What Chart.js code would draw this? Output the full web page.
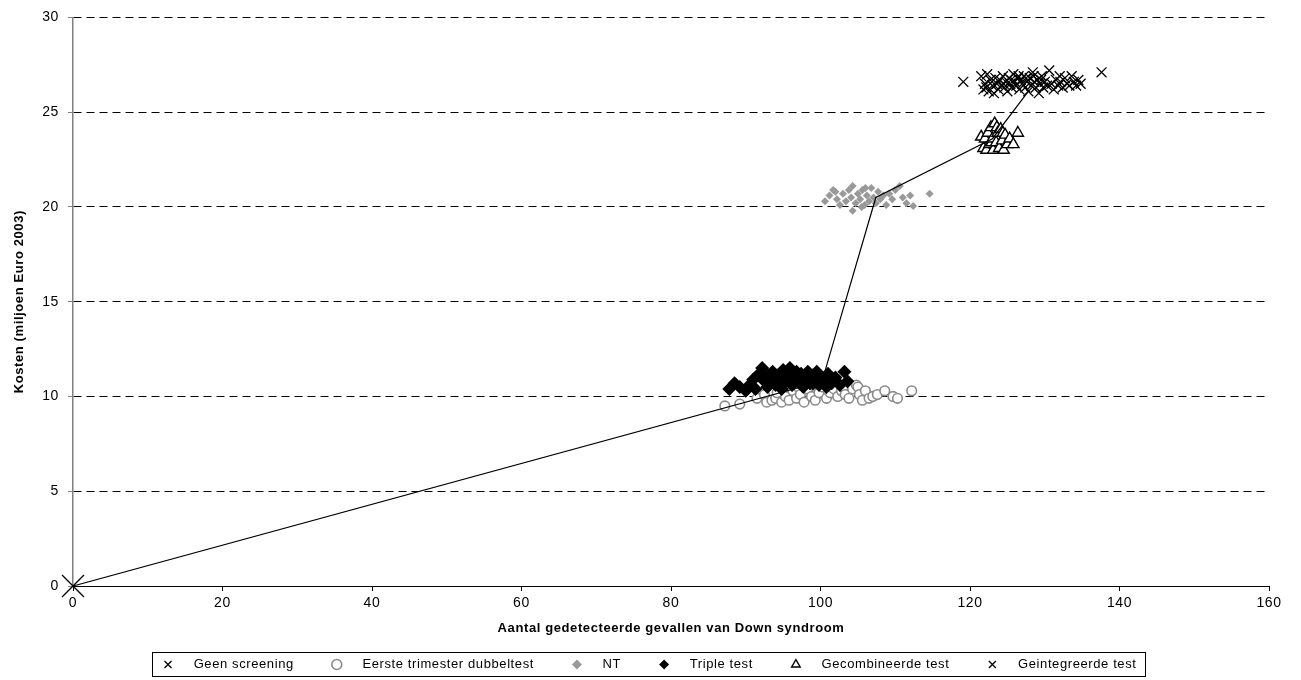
<!DOCTYPE html>
<html>
<head>
<meta charset="utf-8">
<script src="https://cdn.jsdelivr.net/npm/chart.js@4.4.1/dist/chart.umd.min.js"></script>
<style>
  html, body { margin: 0; padding: 0; background: #fff; }
  #wrap { width: 1301px; height: 680px; }
</style>
</head>
<body>
<div id="wrap"><canvas id="kostenChart"></canvas></div>
<script>
// data: [aantal gedetecteerd, kosten (mln euro)]
const xTicks = [0, 20, 40, 60, 80, 100, 120, 140, 160];
const yTicks = [0, 5, 10, 15, 20, 25, 30];

const geenScreening = [[0, 0]];

const eersteTrimester = [
    [87.2, 9.5], [89.2, 9.6], [91.5, 9.9], [92.5, 10.1], [92.8, 9.7], [93.5, 9.8], [94.0, 9.9],
    [94.2, 10.2], [94.8, 9.7], [95.0, 10.4], [95.3, 10.0], [95.8, 9.8], [96.3, 10.3], [96.8, 9.9],
    [97.0, 10.5], [97.3, 10.1], [97.8, 9.7], [98.3, 10.4], [98.8, 10.0], [99.0, 10.6], [99.3, 9.8],
    [99.8, 10.2], [100.3, 10.5], [100.8, 9.9], [101.0, 10.6], [101.3, 10.2], [101.8, 10.4],
    [102.3, 10.0], [102.8, 10.3], [103.0, 10.5], [103.3, 10.1], [103.8, 9.9], [104.3, 10.4],
    [104.8, 10.6], [105.0, 10.5], [105.2, 10.1], [105.6, 9.8], [106.0, 10.3], [106.5, 9.9],
    [107.0, 10.0], [107.6, 10.1], [108.6, 10.3], [109.7, 10.0], [110.3, 9.9], [112.2, 10.3]
];

const ntTest = [
    [100.6, 20.3], [101.2, 20.6], [101.7, 20.9], [102.0, 20.8], [102.2, 20.4], [102.6, 20.1],
    [103.0, 20.7], [103.4, 20.3], [103.8, 20.9], [104.1, 20.5], [104.3, 21.1], [104.3, 19.8],
    [104.7, 20.2], [105.0, 20.7], [105.3, 20.4], [105.5, 20.0], [105.6, 20.9], [105.9, 20.1],
    [106.0, 21.0], [106.2, 20.6], [106.5, 20.3], [106.8, 21.0], [107.1, 20.5], [107.4, 20.2],
    [107.7, 20.8], [108.0, 20.4], [108.4, 20.6], [108.8, 20.1], [109.2, 20.7], [109.6, 20.4],
    [110.0, 20.9], [110.6, 21.1], [111.0, 20.5], [111.5, 20.2], [112.0, 20.6], [112.4, 20.05],
    [114.6, 20.7]
];

const tripleTest = [
    [87.8, 10.4], [88.5, 10.7], [89.2, 10.5], [90.0, 10.3], [90.5, 10.6], [91.0, 10.9],
    [91.3, 10.4], [91.8, 11.2], [92.2, 11.5], [92.5, 10.8], [92.9, 10.5], [93.0, 11.1],
    [93.3, 11.0], [93.6, 11.3], [93.9, 10.7], [94.0, 10.6], [94.2, 11.1], [94.5, 10.9],
    [94.8, 10.4], [95.0, 11.4], [95.3, 10.8], [95.6, 11.1], [95.9, 11.5], [96.0, 10.9],
    [96.2, 10.6], [96.5, 11.0], [96.8, 11.3], [97.1, 10.8], [97.4, 11.2], [97.5, 10.9],
    [97.7, 10.5], [98.0, 11.0], [98.3, 11.3], [98.6, 10.7], [98.9, 11.1], [99.0, 10.7],
    [99.2, 10.9], [99.5, 11.3], [99.8, 10.6], [100.1, 11.0], [100.5, 10.8], [100.8, 10.5],
    [101.0, 11.2], [101.5, 10.7], [102.0, 11.0], [102.6, 10.6], [103.2, 11.3], [103.6, 10.8]
];

const gecombineerdeTest = [
    [121.5, 23.7], [121.8, 23.1], [122.0, 23.6], [122.2, 23.0], [122.4, 23.9], [122.6, 23.3],
    [122.8, 24.2], [122.9, 23.4], [123.0, 23.6], [123.1, 23.0], [123.3, 24.4], [123.5, 23.4],
    [123.6, 24.2], [123.7, 23.9], [123.9, 23.1], [124.1, 24.1], [124.3, 23.5], [124.4, 23.9],
    [124.5, 23.0], [124.7, 23.8], [125.0, 23.3], [125.3, 23.6], [125.8, 23.3], [126.4, 23.9]
];

const geintegreerdeTest = [
    [119.1, 26.6], [121.5, 26.9], [121.8, 26.2], [122.0, 26.5], [122.2, 26.3], [122.3, 27.0],
    [122.5, 26.1], [122.7, 26.7], [123.0, 26.4], [123.2, 26.0], [123.4, 26.8], [123.6, 26.5],
    [123.8, 26.2], [124.0, 26.7], [124.2, 26.4], [124.4, 26.9], [124.5, 26.5], [124.6, 26.3],
    [124.8, 26.6], [125.0, 26.1], [125.2, 26.8], [125.4, 26.5], [125.5, 26.7], [125.6, 26.3],
    [125.8, 27.0], [126.0, 26.6], [126.2, 26.4], [126.4, 26.8], [126.5, 26.9], [126.6, 26.2],
    [126.8, 26.7], [127.0, 26.5], [127.2, 26.9], [127.4, 26.3], [127.5, 26.8], [127.6, 26.6],
    [127.8, 26.1], [128.0, 26.8], [128.2, 26.4], [128.4, 27.1], [128.5, 26.9], [128.6, 26.6],
    [128.8, 26.3], [129.0, 26.7], [129.2, 26.0], [129.4, 26.5], [129.5, 26.7], [129.6, 26.9],
    [129.8, 26.3], [130.0, 26.6], [130.3, 26.4], [130.6, 27.2], [130.9, 26.5], [131.2, 26.2],
    [131.5, 26.7], [131.8, 26.4], [132.0, 26.9], [132.1, 26.6], [132.4, 26.3], [132.7, 26.8],
    [133.0, 26.5], [133.3, 26.4], [133.6, 26.9], [133.9, 26.6], [134.2, 26.4], [134.5, 26.7],
    [134.8, 26.5], [137.6, 27.1]
];

// efficiency frontier
const frontier = [[0, 0], [100.2, 10.8], [107.4, 20.5], [123.0, 23.6], [127.8, 26.1]];

const toPoints = arr => arr.map(p => ({ x: p[0], y: p[1] }));

Chart.defaults.font.family = "'Liberation Sans', Arial, sans-serif";
Chart.defaults.color = "#000";

// the original text is drawn a bit wide
const spacing = {
    id: "spacing",
    beforeLayout(chart) { chart.ctx.letterSpacing = "0.6px"; },
    beforeDraw(chart) { chart.ctx.letterSpacing = "0.6px"; }
};

// legend sits a little right of centre in the original
const legendShift = {
    id: "legendShift",
    afterUpdate(chart) {
        const lg = chart.legend;
        if (!lg) return;
        lg.left += 9;
        lg.right += 9;
        lg.top += 1;
        lg.bottom += 1;
        (lg.legendHitBoxes || []).forEach(b => { b.left += 9; b.top += 1; });
    }
};

const legendBox = {
    id: "legendBox",
    afterDraw(chart) {
        const boxes = chart.legend && chart.legend.legendHitBoxes;
        if (!boxes || !boxes.length) return;
        let left = Infinity, right = -Infinity, top = Infinity, bottom = -Infinity;
        boxes.forEach(b => {
            left = Math.min(left, b.left);
            right = Math.max(right, b.left + b.width);
            top = Math.min(top, b.top);
            bottom = Math.max(bottom, b.top + b.height);
        });
        const ctx = chart.ctx;
        ctx.save();
        ctx.strokeStyle = "#000";
        ctx.lineWidth = 1;
        ctx.strokeRect(Math.round(left - 9) + 0.5, Math.round(top - 6) + 0.5,
            Math.round(right - left + 18), Math.round(bottom - top + 11));
        ctx.restore();
    }
};

const scatterSet = (label, data, style, extra) => Object.assign({
    label: label,
    data: toPoints(data),
    pointStyle: style,
    clip: false
}, extra);

const lastLegend = "Geintegreerde test";

new Chart(document.getElementById("kostenChart"), {
    type: "scatter",
    data: {
        datasets: [
            scatterSet("Geen screening", geenScreening, "crossRot", {
                order: 10, pointRadius: 15.5, borderColor: "#000", backgroundColor: "#000", borderWidth: 1.3
            }),
            scatterSet("Eerste trimester dubbeltest", eersteTrimester, "circle", {
                order: 9, pointRadius: 4.8, borderColor: "#8a8a8a", backgroundColor: "#fff", borderWidth: 1.6
            }),
            scatterSet("NT", ntTest, "rectRot", {
                order: 8, pointRadius: 4, borderColor: "#999", backgroundColor: "#999", borderWidth: 0
            }),
            scatterSet("Triple test", tripleTest, "rectRot", {
                order: 7, pointRadius: 7, borderColor: "#000", backgroundColor: "#000", borderWidth: 0
            }),
            scatterSet("Gecombineerde test", gecombineerdeTest, "triangle", {
                order: 6, pointRadius: 6.5, borderColor: "#000", backgroundColor: "#fff", borderWidth: 1.4
            }),
            scatterSet("Geintegreerde test", geintegreerdeTest, "crossRot", {
                order: 5, pointRadius: 7, borderColor: "#000", backgroundColor: "#000", borderWidth: 1.3
            }),
            {
                type: "line",
                label: "frontier",
                data: toPoints(frontier),
                order: 0,
                showLine: true,
                borderColor: "#000",
                borderWidth: 1.2,
                pointRadius: 0,
                fill: false,
                tension: 0
            }
        ]
    },
    options: {
        responsive: true,
        maintainAspectRatio: false,
        animation: false,
        layout: { padding: { top: 10, right: 32, left: 11, bottom: 0 } },
        plugins: {
            tooltip: { enabled: false },
            legend: {
                position: "bottom",
                labels: {
                    usePointStyle: true,
                    boxHeight: 7,
                    padding: 7,
                    font: { size: 13 },
                    color: "#000",
                    sort: (a, b) => a.datasetIndex - b.datasetIndex,
                    generateLabels: chart => Chart.defaults.plugins.legend.labels.generateLabels(chart)
                        .filter(item => item.text !== "frontier")
                        .map(item => {
                            const tail = item.text === lastLegend ? "" : "       ";
                            item.text = "   " + item.text + tail;
                            return item;
                        })
                }
            }
        },
        scales: {
            x: {
                type: "linear",
                min: 0,
                max: 160,
                afterBuildTicks: s => { s.ticks = xTicks.map(v => ({ value: v })); },
                afterFit: s => { s.height = 64; },
                border: { color: "#000", width: 1 },
                grid: { drawOnChartArea: false, drawTicks: true, tickLength: 5, color: "#000" },
                ticks: { padding: 4, font: { size: 14 }, color: "#000", maxRotation: 0 },
                title: {
                    display: true,
                    text: "Aantal gedetecteerde gevallen van Down syndroom",
                    font: { size: 13, weight: "bold" },
                    color: "#000",
                    padding: { top: 2, bottom: 14 }
                }
            },
            y: {
                type: "linear",
                min: 0,
                max: 30,
                afterBuildTicks: s => { s.ticks = yTicks.map(v => ({ value: v })); },
                afterFit: s => { s.width = 62; },
                border: { color: "#808080", width: 1.5, dash: [8, 5] },
                grid: { color: "#000", lineWidth: 1, drawTicks: true, tickLength: 5, tickColor: "#808080", tickBorderDash: [] },
                ticks: { padding: 9, font: { size: 14 }, color: "#000" },
                title: {
                    display: true,
                    text: "Kosten (miljoen Euro 2003)",
                    font: { size: 13, weight: "bold" },
                    color: "#000",
                    padding: { top: 1, bottom: 4 }
                }
            }
        }
    },
    plugins: [spacing, legendShift, legendBox]
});
</script>
</body>
</html>
